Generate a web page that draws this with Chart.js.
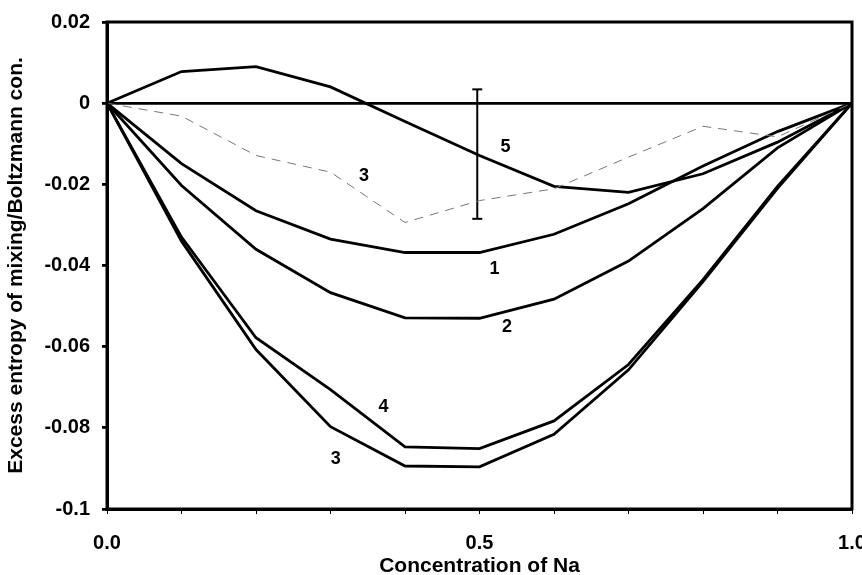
<!DOCTYPE html>
<html>
<head>
<meta charset="utf-8">
<script src="https://cdn.jsdelivr.net/npm/chart.js@4.4.1/dist/chart.umd.min.js"></script>
<style>
  html, body { margin: 0; padding: 0; background: #fff; }
  #wrap { width: 862px; height: 575px; }
</style>
</head>
<body>
<div id="wrap"><canvas id="myChart" width="862" height="575"></canvas></div>
<script>
  "use strict";

  // Na concentration (x) and excess entropy values for each curve
  var conc = [0, 0.1, 0.2, 0.3, 0.4, 0.5, 0.6, 0.7, 0.8, 0.9, 1.0];
  var curve1 = [0, -0.0149, -0.0265, -0.0335, -0.0368, -0.0368, -0.0323, -0.0248, -0.0155, -0.0070, 0];
  var curve2 = [0, -0.0203, -0.0360, -0.0467, -0.0529, -0.0530, -0.0483, -0.0389, -0.0260, -0.0110, 0];
  var curve3 = [0, -0.0340, -0.0607, -0.0797, -0.0894, -0.0896, -0.0816, -0.0657, -0.0440, -0.0210, 0];
  var curve4 = [0, -0.0330, -0.0578, -0.0706, -0.0847, -0.0851, -0.0783, -0.0644, -0.0435, -0.0205, 0];
  var curve5 = [0, 0.0078, 0.0090, 0.0040, -0.0045, -0.0129, -0.0205, -0.0220, -0.0174, -0.0096, 0];
  var curve3dash = [0, -0.0032, -0.0129, -0.0170, -0.0294, -0.0240, -0.0211, -0.0133, -0.0057, -0.0083, 0];

  // error bar on curve 5 at x = 0.5
  var errX = 0.497;
  var errLow = -0.0285;
  var errHigh = 0.0034;

  // curve labels placed in data coordinates
  var labelText = ["5", "3", "1", "2", "4", "3"];
  var labelX = [0.535, 0.345, 0.52, 0.537, 0.371, 0.307];
  var labelY = [-0.0108, -0.0180, -0.0408, -0.0551, -0.0749, -0.0877];

  var xTicks = [0, 0.5, 1.0];

  function pts(ys) {
    return conc.map(function (x, i) { return { x: x, y: ys[i] }; });
  }

  function solid(data) {
    return {
      data: pts(data),
      borderColor: "#000",
      borderWidth: 2.8,
      pointRadius: 0,
      tension: 0,
      fill: false,
    };
  }

  // frame around plot area + curve numbers
  var framePlugin = {
    id: "frame",
    afterDatasetsDraw: function (chart) {
      var c = chart.ctx, a = chart.chartArea;
      var xs = chart.scales.x, ys = chart.scales.y;
      c.save();
      c.strokeStyle = "#000";
      c.lineWidth = 3;
      c.strokeRect(a.left, a.top, a.right - a.left, a.bottom - a.top);
      c.fillStyle = "#000";
      c.font = "bold 18px 'Liberation Sans', Arial, sans-serif";
      c.textAlign = "center";
      c.textBaseline = "middle";
      labelText.forEach(function (t, i) {
        c.fillText(t, xs.getPixelForValue(labelX[i]), ys.getPixelForValue(labelY[i]));
      });
      c.restore();
    },
  };

  var tickFont = { family: "'Liberation Sans', Arial, sans-serif", size: 20, weight: "bold" };
  var titleFont = { family: "'Liberation Sans', Arial, sans-serif", size: 21, weight: "bold" };

  var ctx = document.getElementById("myChart").getContext("2d");
  new Chart(ctx, {
    type: "line",
    data: {
      datasets: [
        {
          data: pts(curve3dash),
          borderColor: "#777",
          borderWidth: 1,
          borderDash: [9, 7],
          pointRadius: 0,
          tension: 0,
          fill: false,
        },
        solid(curve1),
        solid(curve2),
        solid(curve3),
        solid(curve4),
        solid(curve5),
        {
          data: [{ x: errX, y: errHigh }, { x: errX, y: errLow }],
          borderColor: "#000",
          borderWidth: 2,
          pointStyle: "line",
          pointRadius: 5,
          pointBorderWidth: 2,
          pointBorderColor: "#000",
          fill: false,
        },
      ],
    },
    options: {
      responsive: false,
      animation: false,
      layout: { padding: { top: 22, right: 10, left: 0, bottom: 0 } },
      plugins: {
        legend: { display: false },
        tooltip: { enabled: false },
      },
      scales: {
        x: {
          type: "linear",
          min: 0,
          max: 1,
          afterBuildTicks: function (axis) {
            axis.ticks = conc.map(function (v) { return { value: v }; });
          },
          afterFit: function (axis) {
            axis.height = 66;
            axis.paddingLeft = 0;
            axis.paddingRight = 0;
          },
          ticks: {
            color: "#000",
            font: tickFont,
            padding: 17,
            maxRotation: 0,
            autoSkip: false,
            callback: function (v) {
              return xTicks.indexOf(v) >= 0 ? v.toFixed(1) : "";
            },
          },
          grid: { drawOnChartArea: false, tickLength: 5, color: "#000" },
          border: { color: "#000", width: 3 },
          title: {
            display: true,
            text: "Concentration of Na",
            color: "#000",
            font: titleFont,
            padding: { top: 0, bottom: -4 },
          },
        },
        y: {
          min: -0.1,
          max: 0.02,
          afterFit: function (axis) {
            axis.width = 107;
            axis.paddingTop = 0;
            axis.paddingBottom = 0;
          },
          ticks: {
            stepSize: 0.02,
            color: "#000",
            font: tickFont,
            padding: 12,
            callback: function (v) {
              var r = Math.round(v * 100) / 100;
              if (r === 0) return "0";
              if (r === -0.1) return "-0.1";
              return r.toFixed(2);
            },
          },
          grid: {
            tickLength: 5,
            tickColor: "#000",
            lineWidth: 2.8,
            color: function (c) {
              return c.tick && Math.abs(c.tick.value) < 1e-9 ? "#000" : "rgba(0,0,0,0)";
            },
          },
          border: { color: "#000", width: 3 },
          title: {
            display: true,
            text: "Excess entropy of mixing/Boltzmann con.",
            color: "#000",
            font: titleFont,
            padding: { top: 4, bottom: 0 },
          },
        },
      },
    },
    plugins: [framePlugin],
  });
</script>
</body>
</html>
